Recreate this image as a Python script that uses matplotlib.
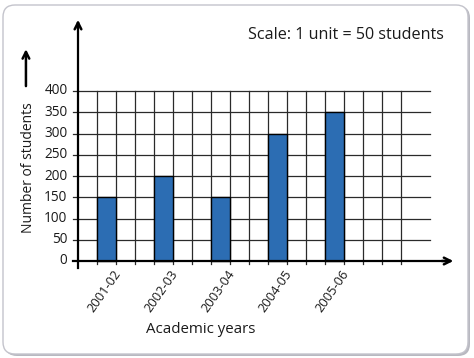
import matplotlib.pyplot as plt
from matplotlib.patches import FancyBboxPatch

years = ["2001-02", "2002-03", "2003-04", "2004-05", "2005-06"]
students = [150, 200, 150, 300, 350]
bar_slots = [1, 4, 7, 10, 13]  # left edge of each bar, in grid units
y_ticks = [0, 50, 100, 150, 200, 250, 300, 350, 400]

W, H = 474, 358
fig = plt.figure(figsize=(W / 100, H / 100), dpi=100)
plt.rcParams["font.family"] = ["Open Sans", "DejaVu Sans"]

# frame with a soft shadow, kept behind the axes
shadow = FancyBboxPatch((5, 2), W - 9, H - 8, boxstyle="round,pad=0,rounding_size=12",
                        transform=None, facecolor="#b8b8c0", edgecolor="none", zorder=-2)
card = FancyBboxPatch((3, 4), W - 9, H - 9, boxstyle="round,pad=0,rounding_size=12",
                      transform=None, facecolor="white", edgecolor="#c4c4cc", lw=1.0,
                      zorder=-1)
fig.patches.extend([shadow, card])

# px = 78 + 19*x ; py(from top) = 261 - 0.425*y
xu, yu = 19.0, 0.425
x0, x1 = -1.0, 20.5
y0, y1 = -20, 580
left = (78 + xu * x0) / W
bottom = 1 - (261 - yu * y0) / H
ax = fig.add_axes([left, bottom, (x1 - x0) * xu / W, (y1 - y0) * yu / H])
ax.set_xlim(x0, x1)
ax.set_ylim(y0, y1)
ax.axis("off")

grid_c = "#2a2a2a"
for y in y_ticks[1:]:
    ax.plot([-0.26, 18.5], [y, y], color=grid_c, lw=0.9, zorder=1)
for x in range(1, 18):
    ax.plot([x, x], [-7, 400], color=grid_c, lw=0.9, zorder=1)

ax.bar([s + 0.5 for s in bar_slots], students, width=1.0, color="#2c6db3",
       edgecolor="black", lw=1.0, zorder=2)

# axes with arrows
ax.plot([0, 0], [-17, 560], color="black", lw=1.6, zorder=3)
ax.plot([-0.26, 19.6], [0, 0], color="black", lw=1.6, zorder=3)
ax.annotate("", xy=(0, 574), xytext=(0, 540),
            arrowprops=dict(arrowstyle="->", color="black", lw=1.8, mutation_scale=12))
ax.annotate("", xy=(19.9, 0), xytext=(19.0, 0),
            arrowprops=dict(arrowstyle="->", color="black", lw=1.8, mutation_scale=12))

for y in y_ticks:
    ax.text(-0.55, y, str(y), ha="right", va="center", fontsize=9.8, color="#1a1a1a")

for s, label in zip(bar_slots, years):
    ax.text(s + 1.1, -24, label, rotation=55, rotation_mode="anchor",
            ha="right", va="center", fontsize=9.3, color="#1a1a1a", clip_on=False)

ax.text(-2.6, 219, "Number of students", rotation=90, ha="center", va="center",
        fontsize=10, color="#1a1a1a", clip_on=False)
ax.annotate("", xy=(-2.74, 505), xytext=(-2.74, 405), annotation_clip=False,
            arrowprops=dict(arrowstyle="->", color="black", lw=1.8, mutation_scale=12))
ax.text(6.47, -162, "Academic years", ha="center", va="center", fontsize=10.8,
        color="#1a1a1a", clip_on=False)
ax.text(14.1, 532, "Scale: 1 unit = 50 students", ha="center", va="center",
        fontsize=11.6, color="#1a1a1a", clip_on=False)

fig.savefig("out.png", dpi=100)
